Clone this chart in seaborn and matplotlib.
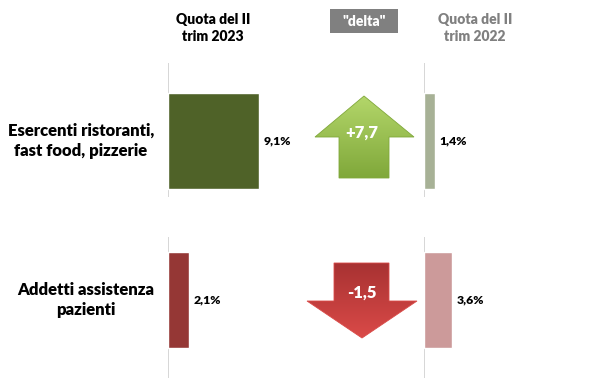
import numpy as np
import pandas as pd
import matplotlib
matplotlib.use("Agg")
import matplotlib.pyplot as plt
from matplotlib.patches import Polygon, Rectangle
import seaborn as sns

# ---- data ----
categories = ["Esercenti ristoranti,\nfast food, pizzerie", "Addetti assistenza\npazienti"]
quota_2023 = [9.1, 2.1]
quota_2022 = [1.4, 3.6]
header_2023 = "Quota del II\ntrim 2023"
header_2022 = "Quota del II\ntrim 2022"
header_delta = '"delta"'

colors_2023 = ["#4f6228", "#953735"]
colors_2022 = ["#a7b196", "#cc9a9a"]

df = pd.DataFrame({"cat": categories, "q23": quota_2023, "q22": quota_2022})
df["delta"] = df["q23"] - df["q22"]

sns.set_theme(style="white")
plt.rcParams["font.family"] = ["Lato", "DejaVu Sans"]
WEIGHT = "heavy"

W, H = 600, 392
fig = plt.figure(figsize=(W / 100, H / 100), dpi=100)

def fx(px):
    return px / W

def fy(py):
    return 1 - py / H

# vertical geometry (pixels)
c0, c1 = 141, 300
unit = c1 - c0
top_px, bot_px = 60, 380
ylim = (1 + (bot_px - c1) / unit, (top_px - c0) / unit)

def make_ax(left_px, px_per_pct):
    ax = fig.add_axes([fx(left_px), fy(bot_px), 130 / W, (bot_px - top_px) / H])
    ax.set_xlim(0, 130 / px_per_pct)
    return ax

ax1 = make_ax(168, 10.0)
ax2 = make_ax(424, 7.8)

for ax, col, pal in [(ax1, "q23", colors_2023), (ax2, "q22", colors_2022)]:
    sns.barplot(data=df, x=col, y="cat", hue="cat", palette=pal, width=0.6,
                orient="h", ax=ax, legend=False, saturation=1)
    ax.set_ylim(*ylim)
    ax.axis("off")
    # group axis lines
    seg = [((63 - c0) / unit, (197 - c0) / unit), (1 + (237 - c1) / unit, 1 + (378 - c1) / unit)]
    for (a, b) in seg:
        ax.plot([0, 0], [a, b], color="#d0d0d0", lw=1.2, solid_capstyle="butt", zorder=0)
    for i, v in enumerate(df[col]):
        ax.annotate(f"{v:.1f}".replace(".", ",") + "%", xy=(v, i), xytext=(3.5, 0),
                    textcoords="offset points", ha="left", va="center",
                    fontsize=8.8, fontweight=WEIGHT, color="black")

# overlay axis in pixel coordinates for text and arrows
ov = fig.add_axes([0, 0, 1, 1])
ov.set_xlim(0, W)
ov.set_ylim(H, 0)
ov.axis("off")

# headers
ov.text(213, 28, header_2023, ha="center", va="center", fontsize=10,
        fontweight=WEIGHT, color="black", linespacing=1.35)
ov.text(475, 28, header_2022, ha="center", va="center", fontsize=10,
        fontweight=WEIGHT, color="#808080", linespacing=1.35)
ov.add_patch(Rectangle((330, 9), 68, 24, facecolor="#808080", edgecolor="none"))
ov.text(364, 21, header_delta, ha="center", va="center", fontsize=10,
        fontweight=WEIGHT, color="white")

# category labels
for cy, cx, lab in zip([c0, c1], [81, 86], df["cat"]):
    ov.text(cx, cy, lab, ha="center", va="center", fontsize=12,
            fontweight=WEIGHT, color="black", linespacing=1.3)

def gradient_arrow(poly, top_col, bot_col, y0, y1, x0, x1):
    patch = Polygon(poly, closed=True, facecolor="none", edgecolor="none")
    ov.add_patch(patch)
    c_top = np.array(matplotlib.colors.to_rgb(top_col))
    c_bot = np.array(matplotlib.colors.to_rgb(bot_col))
    t = np.linspace(0, 1, 64)[:, None]
    img = (c_top[None, :] * (1 - t) + c_bot[None, :] * t)[:, None, :]
    im = ov.imshow(img, extent=(x0, x1, y1, y0), aspect="auto", zorder=2,
                   interpolation="bilinear")
    im.set_clip_path(patch)
    ov.add_patch(Polygon(poly, closed=True, facecolor="none",
                         edgecolor=bot_col, lw=0.6, zorder=3))
    ov.set_xlim(0, W)
    ov.set_ylim(H, 0)

for i, d in enumerate(df["delta"]):
    label = ("+" if d > 0 else "") + f"{d:.1f}".replace(".", ",")
    if d > 0:
        poly = [(339, 178), (339, 137), (315, 137), (364, 96), (414, 137),
                (389, 137), (389, 178)]
        gradient_arrow(poly, "#b3d66a", "#80a83a", 96, 178, 315, 414)
        ty = 133
    else:
        poly = [(334, 263), (389, 263), (389, 301), (417, 301), (362, 338),
                (307, 301), (334, 301)]
        gradient_arrow(poly, "#a83232", "#da4a48", 263, 338, 307, 417)
        ty = 293
    ov.text(362, ty, label, ha="center", va="center", fontsize=12,
            fontweight=WEIGHT, color="white", zorder=4)

fig.savefig("out.png", dpi=100)
